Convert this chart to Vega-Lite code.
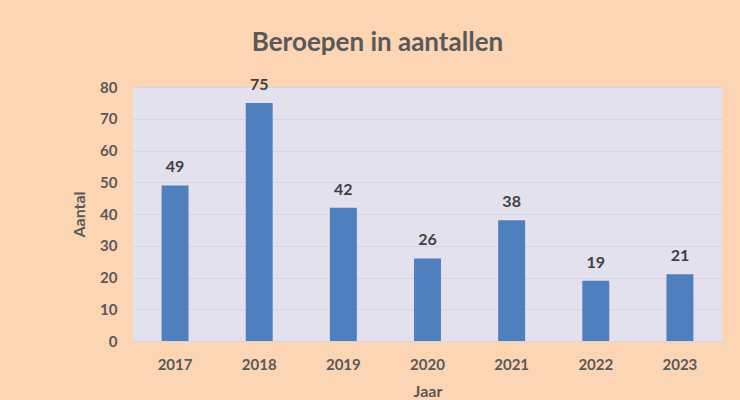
{
  "$schema": "https://vega.github.io/schema/vega-lite/v6.json",
  "autosize": {"type": "none"},
  "width": 589,
  "height": 254,
  "padding": {"left": 133, "top": 87, "right": 18, "bottom": 59},
  "background": "#FCD5B4",
  "title": {
    "text": "Beroepen in aantallen",
    "font": "Lato",
    "fontSize": 26,
    "fontWeight": "bold",
    "color": "#595959",
    "anchor": "middle",
    "dx": -50,
    "offset": 21
  },
  "config": {
    "view": {"fill": "#E4E1EE", "stroke": null},
    "font": "Lato"
  },
  "data": {
    "values": [
      {"Jaar": "2017", "Aantal": 49},
      {"Jaar": "2018", "Aantal": 75},
      {"Jaar": "2019", "Aantal": 42},
      {"Jaar": "2020", "Aantal": 26},
      {"Jaar": "2021", "Aantal": 38},
      {"Jaar": "2022", "Aantal": 19},
      {"Jaar": "2023", "Aantal": 21}
    ]
  },
  "encoding": {
    "x": {
      "field": "Jaar", "type": "nominal",
      "scale": {"paddingInner": 0.68, "paddingOuter": 0.34},
      "axis": {
        "title": "Jaar", "labelAngle": 0, "domain": false, "ticks": false,
        "labelFont": "Lato", "labelFontSize": 15, "labelFontWeight": "bold", "labelColor": "#595959",
        "labelPadding": 16,
        "titleFont": "Lato", "titleFontSize": 16, "titleFontWeight": "bold", "titleColor": "#595959",
        "titlePadding": 11
      }
    },
    "y": {
      "field": "Aantal", "type": "quantitative",
      "scale": {"domain": [0, 80]},
      "axis": {
        "title": "Aantal", "values": [0, 10, 20, 30, 40, 50, 60, 70, 80],
        "domain": false, "ticks": false,
        "grid": true, "gridColor": "#D6D4E2", "gridWidth": 1.2,
        "labelFont": "Lato", "labelFontSize": 15, "labelFontWeight": "bold", "labelColor": "#595959",
        "labelPadding": 16,
        "titleFont": "Lato", "titleFontSize": 16, "titleFontWeight": "bold", "titleColor": "#595959",
        "titlePadding": 12
      }
    }
  },
  "layer": [
    {"mark": {"type": "bar", "color": "#4F7FBD"}},
    {
      "mark": {"type": "text", "baseline": "bottom", "dy": -10, "font": "Lato", "fontSize": 16, "fontWeight": "bold", "color": "#404040"},
      "encoding": {"text": {"field": "Aantal", "type": "quantitative"}}
    }
  ]
}
